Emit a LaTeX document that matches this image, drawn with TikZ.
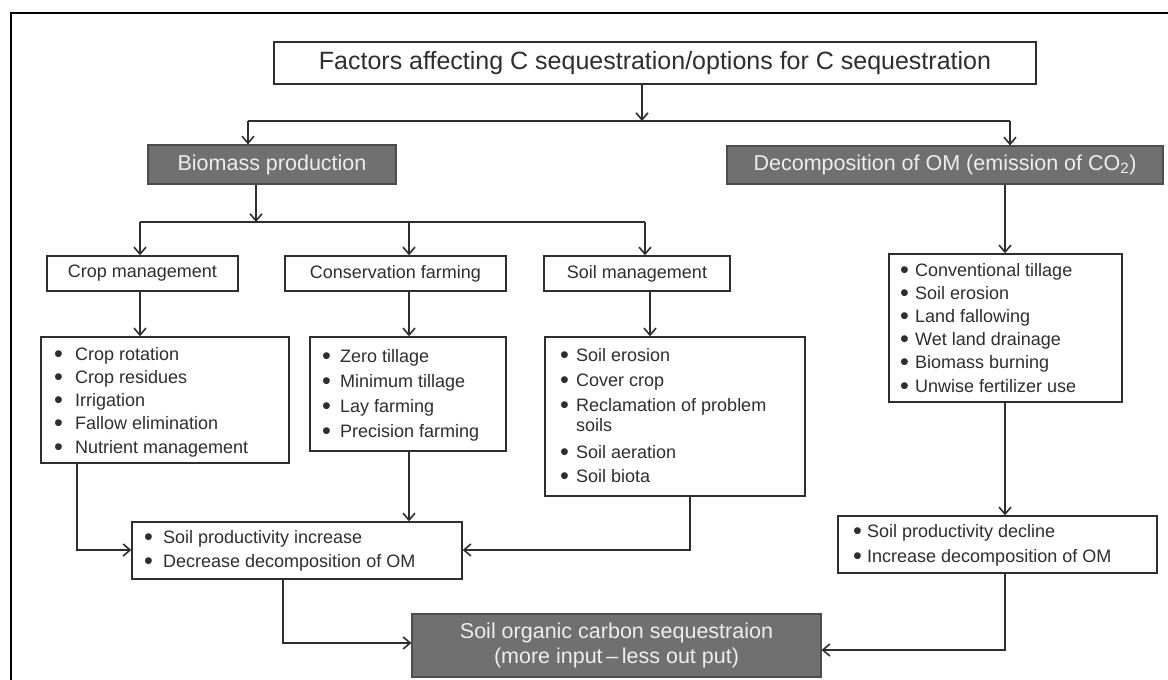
\documentclass[tikz,border=0pt]{standalone}
\usepackage{graphicx}
\usepackage{fontspec}
\setmainfont{Liberation Sans}
\usetikzlibrary{arrows.meta}
\definecolor{ln}{HTML}{2E2E2E}
\definecolor{dk}{HTML}{707070}
\definecolor{dkb}{HTML}{4D4D4D}
\definecolor{lt}{HTML}{EDEDED}
\newcommand{\bl}[2]{\makebox[#1][l]{\raisebox{-2pt}{\scalebox{1.4}{\textbullet}}}#2}
\begin{document}
\begin{tikzpicture}[x=1pt,y=-1pt,
  wire/.style={draw=ln, line width=1.6pt},
  arr/.style={wire, -{Straight Barb[length=7pt,width=12pt,line width=1.6pt]}},
  whitebox/.style={draw=ln, line width=1.4pt, fill=white, rectangle, inner sep=0pt, text=ln},
  darkbox/.style={draw=dkb, line width=1.2pt, fill=dk, rectangle, inner sep=0pt, text=lt},
  lvltwo/.style={whitebox, font=\fontsize{18pt}{22pt}\selectfont},
  listtxt/.style={inner sep=0pt, anchor=base west, text=ln}
]
\useasboundingbox (0,0) rectangle (1168,680);
% frame
\draw[black, line width=2pt] (1168,13) -- (11,13) -- (11,680);

% boxes
\node[whitebox, minimum width=762pt, minimum height=42pt, font=\fontsize{25pt}{30pt}\selectfont] (title) at (655,63) {Factors affecting C sequestration/options for C sequestration};
\node[darkbox, minimum width=248pt, minimum height=39pt, font=\fontsize{21.5pt}{26pt}\selectfont] (bio) at (272,164.5) {Biomass production};
\node[darkbox, minimum width=436pt, minimum height=38pt, font=\fontsize{21.5pt}{26pt}\selectfont] (dec) at (945,165) {Decomposition of OM (emission of CO\textsubscript{2})};

\node[lvltwo, minimum width=191pt, minimum height=35pt] (crop) at (142.5,273.5) {Crop management};
\node[lvltwo, minimum width=221pt, minimum height=35pt] (cons) at (395.5,273.5) {Conservation farming};
\node[lvltwo, minimum width=186pt, minimum height=35pt] (soil) at (637,273.5) {Soil management};

\node[whitebox, minimum width=248pt, minimum height=126pt] (croplist) at (165,400) {};
\node[whitebox, minimum width=196pt, minimum height=114pt] (conslist) at (408,394) {};
\node[whitebox, minimum width=260pt, minimum height=159pt] (soillist) at (675,416.5) {};
\node[whitebox, minimum width=233pt, minimum height=148pt] (declist) at (1005.5,328) {};
\node[whitebox, minimum width=330pt, minimum height=57pt] (incr) at (297,550.5) {};
\node[whitebox, minimum width=319pt, minimum height=57pt] (decr) at (997.5,544.5) {};
\node[darkbox, minimum width=409pt, minimum height=63pt, align=center, font=\fontsize{21.5pt}{25pt}\selectfont] (final) at (616.5,645.5) {Soil organic carbon sequestraion\\(more input\,–\,less out put)};

% list texts
\node[listtxt, font=\fontsize{18pt}{23.3pt}\selectfont] (croplistt) at (54,360) {\begin{tabular}[t]{@{}l@{}}
\bl{21pt}{Crop rotation}\\ \bl{21pt}{Crop residues}\\ \bl{21pt}{Irrigation}\\ \bl{21pt}{Fallow elimination}\\ \bl{21pt}{Nutrient management}\end{tabular}};
\node[listtxt, font=\fontsize{18pt}{25.3pt}\selectfont] (conslistt) at (322,362) {\begin{tabular}[t]{@{}l@{}}
\bl{18pt}{Zero tillage}\\ \bl{18pt}{Minimum tillage}\\ \bl{18pt}{Lay farming}\\ \bl{18pt}{Precision farming}\end{tabular}};
\node[listtxt, font=\fontsize{18pt}{25pt}\selectfont] (soillistt) at (560,361) {\begin{tabular}[t]{@{}l@{}}
\bl{16pt}{Soil erosion}\\ \bl{16pt}{Cover crop}\\ \bl{16pt}{Reclamation of problem}\\[-5pt] \hspace*{16pt}soils\\[2pt] \bl{16pt}{Soil aeration}\\[-1pt] \bl{16pt}{Soil biota}\end{tabular}};
\node[listtxt, font=\fontsize{18pt}{23.2pt}\selectfont] (declistt) at (900,276) {\begin{tabular}[t]{@{}l@{}}
\bl{15pt}{Conventional tillage}\\ \bl{15pt}{Soil erosion}\\ \bl{15pt}{Land fallowing}\\ \bl{15pt}{Wet land drainage}\\ \bl{15pt}{Biomass burning}\\ \bl{15pt}{Unwise fertilizer use}\end{tabular}};
\node[listtxt, font=\fontsize{18pt}{24pt}\selectfont] (incrt) at (144,543) {\begin{tabular}[t]{@{}l@{}}
\bl{19pt}{Soil productivity increase}\\ \bl{19pt}{Decrease decomposition of OM}\end{tabular}};
\node[listtxt, font=\fontsize{18pt}{25pt}\selectfont] (decrt) at (853,537) {\begin{tabular}[t]{@{}l@{}}
\bl{14pt}{Soil productivity decline}\\ \bl{14pt}{Increase decomposition of OM}\end{tabular}};

% junction coordinates
\coordinate (h1L) at (248,121);
\coordinate (h1R) at (1010,121);
\coordinate (h1M) at (642,121);
\coordinate (h2L) at (140,222);
\coordinate (h2M) at (256,222);
\coordinate (h2C) at (409,222);
\coordinate (h2R) at (645,222);
\coordinate (sx) at (650,0);
\coordinate (dx) at (1005,0);
\coordinate (cx1) at (77,550);
\coordinate (sx2) at (690,550);
\coordinate (ix) at (283,643);
\coordinate (fy2) at (1005,650);

% connectors
\draw[wire] (h1L) -- (h1R);
\draw[arr] (title.south -| h1M) -- (h1M);
\draw[arr] (h1L) -- (bio.north -| h1L);
\draw[arr] (h1R) -- (dec.north -| h1R);
\draw[wire] (h2L) -- (h2R);
\draw[arr] (bio.south -| h2M) -- (h2M);
\draw[arr] (h2L) -- (crop.north -| h2L);
\draw[arr] (h2C) -- (cons.north -| h2C);
\draw[arr] (h2R) -- (soil.north -| h2R);
\draw[arr] (crop.south -| h2L) -- (croplist.north -| h2L);
\draw[arr] (cons.south -| h2C) -- (conslist.north -| h2C);
\draw[arr] (soil.south -| sx) -- (soillist.north -| sx);
\draw[arr] (dec.south -| dx) -- (declist.north -| dx);
\draw[arr] (declist.south -| dx) -- (decr.north -| dx);
\draw[arr] (decr.south -| dx) |- (final.east |- fy2);
\draw[arr] (croplist.south -| cx1) |- (incr.west |- cx1);
\draw[arr] (conslist.south -| h2C) -- (incr.north -| h2C);
\draw[arr] (soillist.south -| sx2) |- (incr.east |- sx2);
\draw[arr] (incr.south -| ix) |- (final.west |- ix);
\end{tikzpicture}
\end{document}
